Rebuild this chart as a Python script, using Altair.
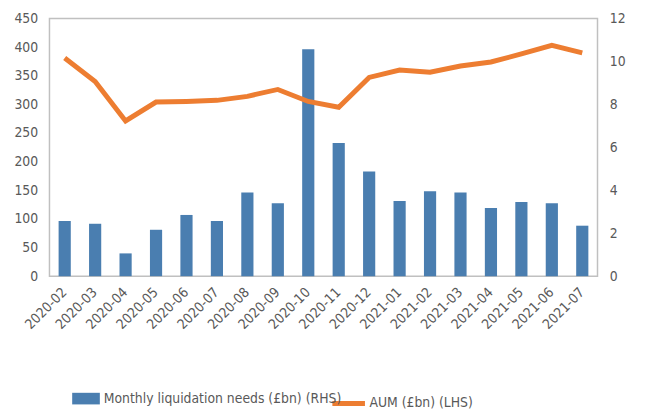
import altair as alt
import pandas as pd

months = ["2020-02", "2020-03", "2020-04", "2020-05", "2020-06", "2020-07",
          "2020-08", "2020-09", "2020-10", "2020-11", "2020-12", "2021-01",
          "2021-02", "2021-03", "2021-04", "2021-05", "2021-06", "2021-07"]
liquidation = [2.57, 2.44, 1.06, 2.16, 2.85, 2.57, 3.9, 3.4, 10.57, 6.2,
               4.87, 3.5, 3.95, 3.9, 3.17, 3.45, 3.4, 2.35]
aum = [381, 340, 271, 304, 305, 307, 314, 326, 305, 295, 347, 360, 356,
       367, 374, 388, 403, 390]

bar_name = "Monthly liquidation needs (£bn) (RHS)"
line_name = "AUM (£bn) (LHS)"

df = pd.DataFrame({"month": months, "liq": liquidation, "aum": aum,
                   "s1": bar_name, "s2": line_name})

FONT = "DejaVu Sans Condensed"
GREY = "#595959"
BLUE = "#4A7EB0"
ORANGE = "#ED7D31"

x = alt.X("month:N", sort=months, title=None,
          scale=alt.Scale(paddingInner=0.6, paddingOuter=0.3),
          axis=alt.Axis(labelAngle=-45, labelAlign="right", labelBaseline="middle",
                        labelPadding=14, ticks=False, domain=False))

bars = alt.Chart(df).mark_bar().encode(
    x=x,
    y=alt.Y("liq:Q", title=None,
            scale=alt.Scale(domain=[0, 12], nice=False),
            axis=alt.Axis(orient="right", values=[0, 2, 4, 6, 8, 10, 12],
                          grid=False, ticks=False, domain=False, labelPadding=12)),
    color=alt.Color("s1:N", scale=alt.Scale(domain=[bar_name], range=[BLUE]),
                    legend=alt.Legend(title=None, orient="none", legendX=23, legendY=371,
                                      symbolType="M-1,-0.42H1V0.42H-1Z", symbolSize=784,
                                      symbolStrokeWidth=0, labelOffset=4)),
)

line = alt.Chart(df).mark_line(strokeWidth=5).encode(
    x=x,
    y=alt.Y("aum:Q", title=None,
            scale=alt.Scale(domain=[0, 450], nice=False),
            axis=alt.Axis(orient="left", values=list(range(0, 451, 50)),
                          grid=False, ticks=False, domain=False, labelPadding=12)),
    stroke=alt.Stroke("s2:N", scale=alt.Scale(domain=[line_name], range=[ORANGE]),
                      legend=alt.Legend(title=None, orient="none", legendX=284, legendY=371,
                                        symbolType="stroke", symbolSize=1089,
                                        symbolStrokeWidth=5, labelOffset=2)),
)

chart = alt.layer(bars, line).resolve_scale(y="independent", color="independent").properties(
    width=555, height=261,
    autosize=alt.AutoSizeParams(type="none"),
    padding={"left": 42, "top": 8, "right": 40, "bottom": 136},
).configure_view(stroke="#C0C0C0", strokeWidth=1.5).configure_axis(
    labelFont=FONT, labelFontSize=14, labelColor=GREY
).configure_legend(
    labelFont=FONT, labelFontSize=14, labelColor=GREY, padding=0, labelLimit=400
)

chart.save("out.html", embed_options={"renderer": "svg", "actions": False})
